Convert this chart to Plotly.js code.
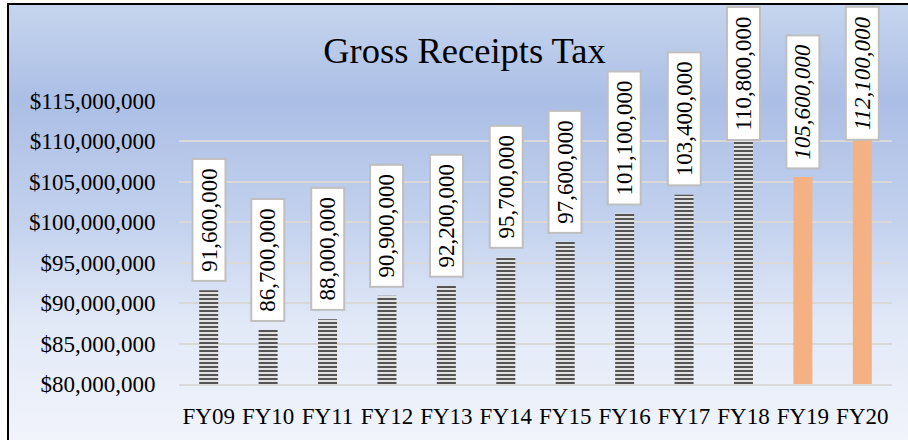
<!DOCTYPE html>
<html>
<head>
<meta charset="utf-8">
<script src="https://cdn.plot.ly/plotly-3.0.1.min.js"></script>
<style>
  html, body { margin: 0; padding: 0; width: 908px; height: 440px; overflow: hidden; background: #ffffff; }
  #frame {
    position: absolute; left: 7px; top: 3px; width: 1000px; height: 500px;
    border-left: 2.5px solid #000; border-top: 2.5px solid #000;
    background: linear-gradient(to bottom, #c6d5ee 0px, #abbee5 95px, #c4d2ee 220px, #e2e9f7 320px, #f1f4fb 437px);
  }
  #chart { position: absolute; left: 0; top: 0; width: 908px; height: 440px; }
</style>
</head>
<body>
<div id="frame"></div>
<div id="chart"></div>
<script>
// ---- data ----
var categories = ["FY09","FY10","FY11","FY12","FY13","FY14","FY15","FY16","FY17","FY18","FY19","FY20"];
var receipts = [91600000, 86700000, 88000000, 90900000, 92200000, 95700000, 97600000, 101100000, 103400000, 110800000, 105600000, 112100000];
var projected = [false,false,false,false,false,false,false,false,false,false,true,true];
var yTickValues = [80000000, 85000000, 90000000, 95000000, 100000000, 105000000, 110000000, 115000000];
var chartTitle = "Gross Receipts Tax";

// ---- layout constants ----
var W = 908, H = 440;
var M = {l: 179, r: 16, t: 101, b: 56};
var yMin = 80000000, yMax = 115000000;
var plotH = H - M.t - M.b;
var labelFont = 23;
var serif = "'Liberation Serif', 'Times New Roman', serif";

function fmt(v) { return v.toLocaleString('en-US'); }
function textLen(s) {
  var w = 0;
  for (var i = 0; i < s.length; i++) w += (s[i] === ',') ? 0.25 : 0.5;
  return w * labelFont;
}

var barColors = projected.map(function (p) { return p ? '#f4b183' : '#e2e2e2'; });
var patShapes = projected.map(function (p) { return p ? '' : '-'; });

var trace = {
  type: 'bar',
  x: categories,
  y: receipts,
  width: 0.32,
  marker: {
    color: barColors,
    line: {width: 0},
    pattern: {shape: patShapes, size: 4, solidity: 0.45, fgcolor: '#7a7a7a', fgopacity: 1, fillmode: 'overlay'}
  },
  hoverinfo: 'x+y'
};

var annotations = categories.map(function (c, i) {
  var txt = fmt(receipts[i]);
  var boxW = Math.round(textLen(txt) + 14);
  var pad = 1, bw = 2;
  var total = boxW + 2 * pad + 2 * bw;
  var ypix = M.t + (yMax - receipts[i]) / (yMax - yMin) * plotH;
  var shift = Math.min(8, ypix - 6 - total);
  return {
    x: c, y: receipts[i], xref: 'x', yref: 'y',
    text: projected[i] ? '<i>' + txt + '</i>' : txt,
    textangle: -90,
    showarrow: false,
    xanchor: 'center', yanchor: 'bottom',
    yshift: shift,
    width: boxW, height: 29,
    bgcolor: '#ffffff', bordercolor: '#bfbfbf', borderwidth: bw, borderpad: pad,
    font: {family: serif, size: labelFont, color: '#000'}
  };
});

var layout = {
  width: W, height: H,
  margin: M,
  paper_bgcolor: 'rgba(0,0,0,0)',
  plot_bgcolor: 'rgba(0,0,0,0)',
  showlegend: false,
  font: {family: serif, color: '#000', size: 23},
  title: {
    text: chartTitle,
    font: {family: serif, size: 36.5, color: '#000'},
    xref: 'container', yref: 'container',
    x: 464.5 / W, y: 1 - 50 / H, xanchor: 'center', yanchor: 'middle'
  },
  bargap: 0.68,
  xaxis: {
    type: 'category',
    showgrid: false, zeroline: false,
    showline: true, linecolor: '#d9d9d9', linewidth: 2,
    ticks: 'outside', ticklen: 10, tickcolor: 'rgba(0,0,0,0)',
    tickfont: {family: serif, size: 23, color: '#000'}
  },
  yaxis: {
    range: [yMin, yMax],
    tickvals: yTickValues,
    tickformat: '$,.0f',
    showgrid: true, gridcolor: '#d9d9d9', gridwidth: 2,
    zeroline: false, showline: false,
    ticks: 'outside', ticklen: 18, tickcolor: 'rgba(0,0,0,0)',
    tickfont: {family: serif, size: 23, color: '#000'}
  },
  annotations: annotations
};

Plotly.newPlot('chart', [trace], layout, {staticPlot: true});
</script>
</body>
</html>
